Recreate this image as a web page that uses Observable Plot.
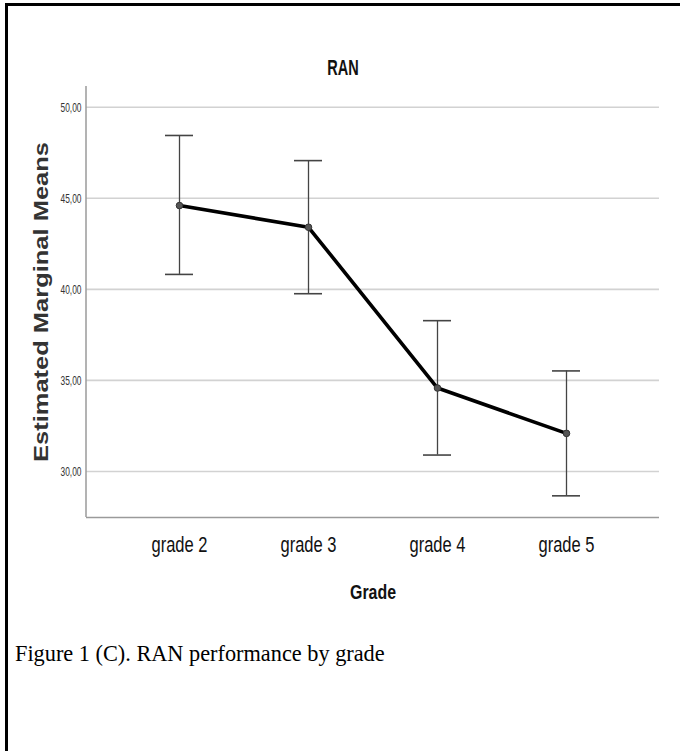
<!DOCTYPE html>
<html><head><meta charset="utf-8">
<script src="https://cdn.jsdelivr.net/npm/d3@7"></script>
<script src="https://cdn.jsdelivr.net/npm/@observablehq/plot@0.6"></script>
<style>
html,body{margin:0;padding:0;background:#fff;}
#page{position:relative;width:680px;height:751px;overflow:hidden;background:#fff;}
#chart{position:absolute;left:0;top:0;}
.bl{position:absolute;left:5px;top:3px;width:2.5px;height:748px;background:#000;}
.bt{position:absolute;left:5px;top:3px;width:675px;height:2.5px;background:#000;}
#title{position:absolute;left:243px;top:57px;width:200px;text-align:center;font:bold 22px/22px "Liberation Sans",Arial,sans-serif;color:#111;transform:scaleX(0.66);transform-origin:100px 0;}
#caption{position:absolute;left:15px;top:643px;font:22.3px/22px "Liberation Serif","Times New Roman",serif;white-space:nowrap;color:#000;}
</style></head>
<body><div id="page"><div id="chart"></div><div id="title">RAN</div><div id="caption">Figure 1 (C). RAN performance by grade</div><div class="bl"></div><div class="bt"></div></div>
<script>
const grades = ["grade 2", "grade 3", "grade 4", "grade 5"];
const means = [44.60, 43.41, 34.58, 32.09];
const lower = [40.82, 39.76, 30.90, 28.66];
const upper = [48.45, 47.07, 38.28, 35.52];
const yTicks = [30, 35, 40, 45, 50];
const yDomain = [27.47, 51.14];

const data = grades.map((g, i) => ({grade: g, mean: means[i], lo: lower[i], hi: upper[i]}));
const commaFmt = d => d3.format(".2f")(d).replace(".", ",");

const leftAxisLine = (index, scales, values, dims) =>
  d3.create("svg:line")
    .attr("x1", dims.marginLeft).attr("x2", dims.marginLeft)
    .attr("y1", dims.marginTop).attr("y2", dims.height - dims.marginBottom)
    .attr("stroke", "#9a9a9a").attr("stroke-width", 1.5).node();

const chart = Plot.plot({
  width: 680, height: 620,
  marginTop: 86, marginLeft: 86, marginRight: 21, marginBottom: 103,
  style: {background: "transparent", overflow: "visible", fontFamily: "'Liberation Sans', Arial, sans-serif", color: "#000"},
  x: {type: "band", domain: grades, paddingInner: 0.783, paddingOuter: 0.612},
  y: {domain: yDomain},
  marks: [
    Plot.gridY(yTicks, {stroke: "#d2d2d2", strokeOpacity: 1, strokeWidth: 1.6}),
    Plot.ruleY([yDomain[0]], {stroke: "#9a9a9a", strokeWidth: 1.5}),
    leftAxisLine,
    Plot.axisY(yTicks, {tickSize: 0, tickPadding: 5, tickFormat: commaFmt, fontSize: 13.5, fill: "#333",
      label: "Estimated Marginal Means", labelAnchor: "center", labelOffset: 53, labelArrow: "none"}),
    Plot.axisX({tickSize: 0, tickPadding: 19, fontSize: 22, fill: "#111",
      label: "Grade", labelAnchor: "center", labelOffset: 81}),
    Plot.ruleX(data, {x: "grade", y1: "lo", y2: "hi", stroke: "#444", strokeWidth: 1.3}),
    Plot.tickY(data, {x: "grade", y: "hi", stroke: "#444", strokeWidth: 1.6}),
    Plot.tickY(data, {x: "grade", y: "lo", stroke: "#444", strokeWidth: 1.6}),
    Plot.line(data, {x: "grade", y: "mean", stroke: "#000", strokeWidth: 3.6}),
    Plot.dot(data, {x: "grade", y: "mean", r: 3.3, fill: "#555", stroke: "#333", strokeWidth: 1})
  ]
});
document.getElementById("chart").appendChild(chart);

// condensed (horizontally squeezed) text, as in the reference
const squeeze = (sel, len) => chart.querySelectorAll(sel).forEach(t => {
  t.setAttribute("textLength", len);
  t.setAttribute("lengthAdjust", "spacingAndGlyphs");
});
squeeze('g[aria-label="y-axis tick label"] text', 21);
squeeze('g[aria-label="x-axis tick label"] text', 56);

const yl = chart.querySelector('g[aria-label="y-axis label"]');
if (yl) {
  yl.setAttribute("font-size", "20");
  yl.setAttribute("font-weight", "bold");
  squeeze('g[aria-label="y-axis label"] text', 320);
}
const xl = chart.querySelector('g[aria-label="x-axis label"]');
if (xl) {
  xl.setAttribute("font-size", "21");
  xl.setAttribute("font-weight", "bold");
  squeeze('g[aria-label="x-axis label"] text', 46);
}
</script>
</body></html>
